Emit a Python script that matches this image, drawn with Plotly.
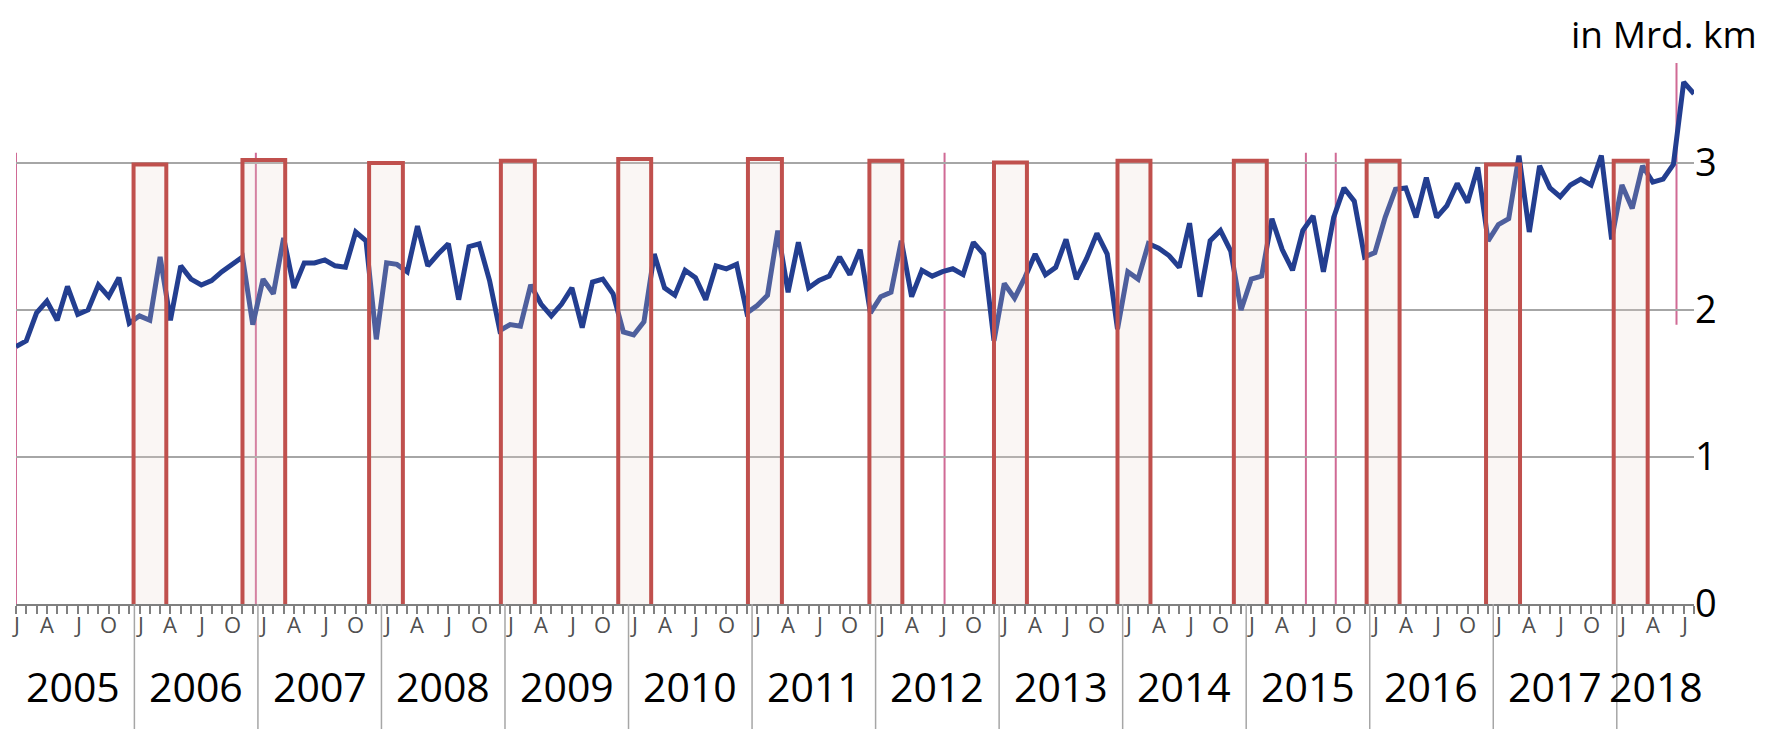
import plotly.graph_objects as go

# ---------------- data ----------------
years = list(range(2005, 2019))
month_letters = ["J", "F", "M", "A", "M", "J", "J", "A", "S", "O", "N", "D"]

v2005 = [1.75, 1.79, 1.98, 2.06, 1.93, 2.16, 1.97, 2.00, 2.17, 2.09, 2.22, 1.91]
v2006 = [1.96, 1.93, 2.36, 1.93, 2.30, 2.21, 2.17, 2.20, 2.26, 2.31, 2.36, 1.90]
v2007 = [2.21, 2.11, 2.49, 2.15, 2.32, 2.32, 2.34, 2.30, 2.29, 2.53, 2.47, 1.80]
v2008 = [2.32, 2.31, 2.26, 2.57, 2.30, 2.38, 2.45, 2.07, 2.43, 2.45, 2.20, 1.86]
v2009 = [1.90, 1.89, 2.17, 2.04, 1.96, 2.04, 2.15, 1.88, 2.19, 2.21, 2.11, 1.85]
v2010 = [1.83, 1.92, 2.38, 2.15, 2.10, 2.27, 2.22, 2.07, 2.30, 2.28, 2.31, 1.98]
v2011 = [2.03, 2.10, 2.54, 2.12, 2.46, 2.15, 2.20, 2.23, 2.36, 2.24, 2.41, 1.98]
v2012 = [2.09, 2.12, 2.47, 2.09, 2.27, 2.23, 2.26, 2.28, 2.24, 2.46, 2.38, 1.79]
v2013 = [2.18, 2.08, 2.22, 2.38, 2.24, 2.29, 2.48, 2.21, 2.35, 2.52, 2.38, 1.87]
v2014 = [2.26, 2.21, 2.45, 2.42, 2.37, 2.29, 2.59, 2.09, 2.47, 2.54, 2.40, 2.00]
v2015 = [2.21, 2.23, 2.62, 2.41, 2.27, 2.54, 2.64, 2.26, 2.63, 2.83, 2.74, 2.36]
v2016 = [2.39, 2.63, 2.82, 2.83, 2.63, 2.90, 2.63, 2.71, 2.86, 2.73, 2.97, 2.47]
v2017 = [2.58, 2.62, 3.05, 2.53, 2.98, 2.83, 2.77, 2.85, 2.89, 2.85, 3.05, 2.48]
v2018 = [2.85, 2.69, 2.98, 2.87, 2.89, 2.99, 3.55, 3.47]

yearly_values = [v2005, v2006, v2007, v2008, v2009, v2010, v2011,
                 v2012, v2013, v2014, v2015, v2016, v2017, v2018]

# highlighted periods (month index, 0 = Jan 2005) and their top value
highlight_start = [11.42, 22.0, 34.3, 47.1, 58.5, 71.1, 82.9, 95.0, 107.0, 118.3, 131.2, 142.8, 155.2]
highlight_end = [14.60, 26.15, 37.58, 50.4, 61.7, 74.4, 86.1, 98.2, 110.2, 121.5, 134.4, 146.1, 158.5]
highlight_top = [2.99, 3.02, 3.00, 3.015, 3.026, 3.026, 3.015, 3.003, 3.015, 3.015, 3.015, 2.99, 3.015]

# event markers (month index)
event_x = [0.0, 23.3, 90.2, 125.3, 128.2, 161.3]
event_top = [3.07, 3.07, 3.07, 3.07, 3.07, 3.68]
event_bottom = [0.0, 0.0, 0.0, 0.0, 0.0, 1.9]

y_ticks = [0, 1, 2, 3]
unit_label = "in Mrd. km"

# ---------------- build ----------------
values = [v for yr in yearly_values for v in yr]
x = list(range(len(values)))
month_lbl = [month_letters[i % 12] for i in x]

FONT = "Open Sans"
fig = go.Figure()
fig.add_trace(go.Scatter(
    x=x, y=values, mode="lines",
    line=dict(color="#233E90", width=5),
    hoverinfo="skip", showlegend=False,
))

shapes = []
for ex, et, eb in zip(event_x, event_top, event_bottom):
    shapes.append(dict(type="line", xref="x", yref="y", x0=ex, x1=ex, y0=eb, y1=et,
                       line=dict(color="rgba(200,80,130,0.85)", width=2), layer="below"))
for k in range(1, len(years)):
    sx = 12 * k - 0.5
    shapes.append(dict(type="line", xref="x", yref="paper", x0=sx, x1=sx, y0=0, y1=-0.235,
                       line=dict(color="#A6A6A6", width=1.5), layer="above"))
for xs, xe, yt in zip(highlight_start, highlight_end, highlight_top):
    shapes.append(dict(type="rect", xref="x", yref="y", x0=xs, x1=xe, y0=-0.02, y1=yt,
                       line=dict(color="#C0504D", width=4),
                       fillcolor="rgba(232,212,204,0.22)", layer="above"))

annotations = []
tickvals = [i for i in x if i % 3 == 0]
for tv in tickvals:
    annotations.append(dict(text=month_lbl[tv], x=tv, y=-0.036, xref="x", yref="paper",
                            showarrow=False, xanchor="center", yanchor="middle",
                            font=dict(family=FONT, size=22, color="#505050")))
for k, yr in enumerate(years):
    n = len(yearly_values[k])
    cx = 12 * k + (n - 1) / 2 if n == 12 else 12 * k + 3.3
    annotations.append(dict(text=str(yr), x=cx, y=-0.150, xref="x", yref="paper",
                            showarrow=False, xanchor="center", yanchor="middle",
                            font=dict(family=FONT, size=41, color="#000000")))
annotations.append(dict(text=unit_label, x=1.039, y=1.048, xref="paper", yref="paper",
                        showarrow=False, xanchor="right", yanchor="middle",
                        font=dict(family=FONT, size=37, color="#000000")))

fig.update_layout(
    width=1774, height=721,
    margin=dict(l=8, r=88, t=52, b=125),
    paper_bgcolor="white", plot_bgcolor="white",
    shapes=shapes, annotations=annotations,
    xaxis=dict(range=[0, 163], tickmode="array", tickvals=tickvals, showticklabels=False,
               ticks="outside", ticklen=8, tickcolor="#808080", tickwidth=1.5,
               minor=dict(dtick=1, tick0=0, ticks="outside", ticklen=8, tickcolor="#808080", tickwidth=1.5),
               showgrid=False, zeroline=False, showline=True, linecolor="#808080", linewidth=2),
    yaxis=dict(range=[0, 3.7], side="right", tickvals=y_ticks, ticktext=[str(t) for t in y_ticks],
               showgrid=True, gridcolor="#A6A6A6", gridwidth=1.5, zeroline=False,
               showline=False, ticks="", tickfont=dict(family=FONT, size=38, color="#000000")),
)

fig.write_html("out.html")
